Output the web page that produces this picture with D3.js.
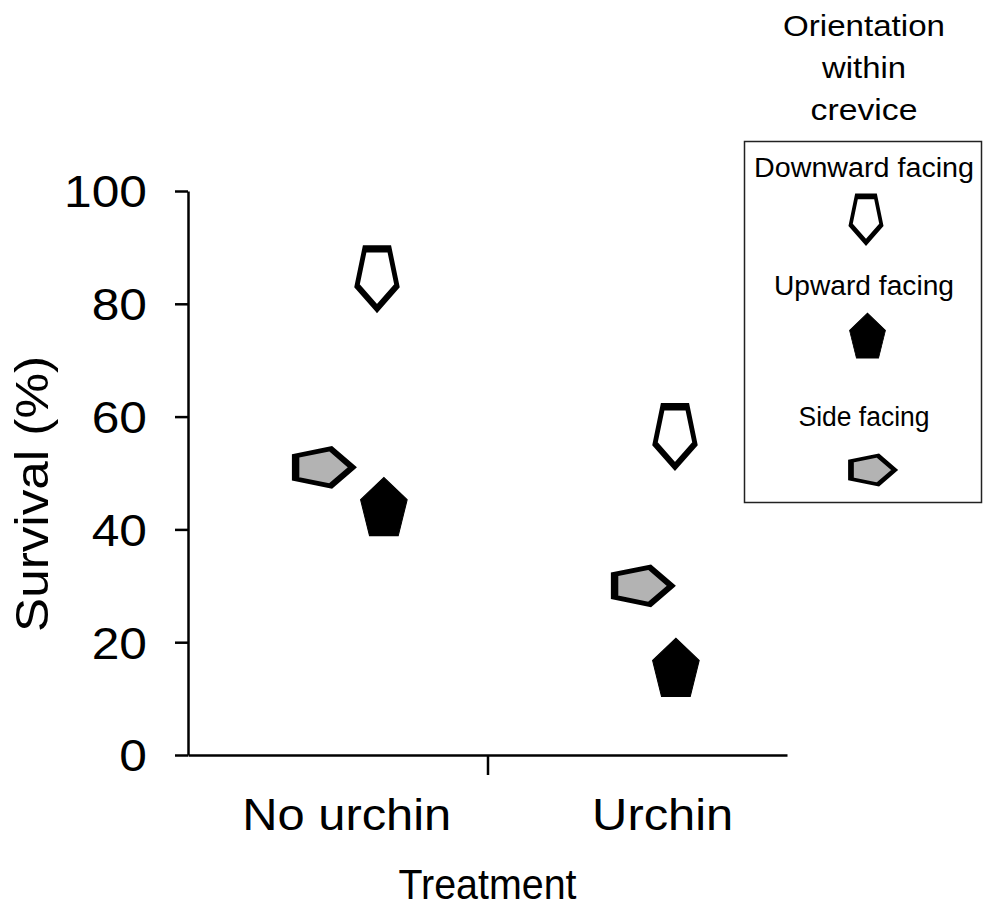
<!DOCTYPE html>
<html>
<head>
<meta charset="utf-8">
<script src="https://cdn.jsdelivr.net/npm/d3@7"></script>
<style>
  html, body { margin: 0; padding: 0; background: #fff; }
  svg { display: block; font-family: "Liberation Sans", Arial, Helvetica, sans-serif; }
</style>
</head>
<body>
<svg id="chart" width="984" height="924"></svg>
<script>
// Survival by treatment, split by orientation of the shelter within the crevice
const treatments = ["No urchin", "Urchin"];
const treatmentLabelPos = [0.53, 1.585];   // label positions along the treatment axis
const orientations = ["Downward facing", "Upward facing", "Side facing"];
const downwardSurvival = [85, 57];
const upwardSurvival = [43.5, 15];
const sideSurvival = [51, 30];
const downwardX = [0.631, 1.626];
const upwardX = [0.654, 1.629];
const sideX = [0.444, 1.509];
const yTicks = [0, 20, 40, 60, 80, 100];
const yTitle = "Survival (%)";
const xTitle = "Treatment";
const legendTitle = ["Orientation", "within", "crevice"];

const FONT = '"Liberation Sans", Arial, Helvetica, sans-serif';
const svg = d3.select("#chart");

const x = d3.scaleLinear().domain([0, 2]).range([188, 787]);
const y = d3.scaleLinear().domain([0, 100]).range([755, 191]);

// stretch a text element horizontally to a given advance width
function fit(sel, w) {
  sel.attr("textLength", w).attr("lengthAdjust", "spacingAndGlyphs");
  return sel;
}

// regular pentagon (circumradius r) rotated so a vertex points in direction rot (deg, 0 = up)
function pentagon(r, rot) {
  const pts = d3.range(5).map(k => {
    const a = (rot + k * 72) * Math.PI / 180;
    return [r * Math.sin(a), -r * Math.cos(a)];
  });
  return "M" + pts.map(p => p[0].toFixed(3) + "," + p[1].toFixed(3)).join("L") + "Z";
}

const markerStyles = {
  "Downward facing": { r: 20, rot: 180, sx: 1.05, sy: 1.65, fill: "#ffffff", sw: 4.5 },
  "Upward facing":   { r: 24, rot: 0,   sx: 1.02, sy: 1.34, fill: "#000000", sw: 1 },
  "Side facing":     { r: 19, rot: 90,  sx: 1.65, sy: 1.03, fill: "#b3b3b3", sw: 4.5 }
};

function drawMarker(g, name, cx, cy, k) {
  const s = markerStyles[name];
  g.append("path")
    .attr("d", pentagon(s.r, s.rot))
    .attr("transform", `translate(${cx},${cy}) scale(${s.sx * k},${s.sy * k})`)
    .attr("fill", s.fill)
    .attr("stroke", "#000")
    .attr("stroke-width", s.sw)
    .attr("stroke-linejoin", "miter")
    .attr("stroke-miterlimit", 10);
}

// axes
const yAxis = svg.append("g")
  .attr("transform", `translate(${x(0)},0)`)
  .call(d3.axisLeft(y).tickValues(yTicks).tickSize(13).tickSizeOuter(0).tickPadding(28));
yAxis.select(".domain").attr("stroke", "#000").attr("stroke-width", 2.5);
yAxis.selectAll(".tick line").attr("stroke", "#000").attr("stroke-width", 2.5);
yAxis.selectAll(".tick text")
  .attr("font-family", FONT).attr("font-size", 44).attr("fill", "#000").attr("dy", "0.36em")
  .each(function () { fit(d3.select(this), this.getComputedTextLength() * 1.13); });

const xAxis = svg.append("g")
  .attr("transform", `translate(0,${y(0)})`)
  .call(d3.axisBottom(x).tickValues([1]).tickFormat("").tickSize(20).tickSizeOuter(0));
xAxis.select(".domain").attr("stroke", "#000").attr("stroke-width", 2.5);
xAxis.selectAll(".tick line").attr("stroke", "#000").attr("stroke-width", 2.5);

// category labels
svg.append("g").selectAll("text")
  .data(treatments)
  .join("text")
  .attr("x", (d, i) => x(treatmentLabelPos[i]))
  .attr("y", 830)
  .attr("text-anchor", "middle")
  .attr("font-family", FONT).attr("font-size", 44)
  .text(d => d)
  .each(function () { fit(d3.select(this), this.getComputedTextLength() * 1.11); });

// axis titles
fit(svg.append("text")
  .attr("x", x(1)).attr("y", 899)
  .attr("text-anchor", "middle")
  .attr("font-family", FONT).attr("font-size", 42)
  .text(xTitle), 178);

fit(svg.append("text")
  .attr("transform", "translate(48,494) rotate(-90)")
  .attr("text-anchor", "middle")
  .attr("font-family", FONT).attr("font-size", 47)
  .text(yTitle), 276);

// data points
const series = [
  { name: "Downward facing", values: downwardSurvival, xs: downwardX },
  { name: "Upward facing", values: upwardSurvival, xs: upwardX },
  { name: "Side facing", values: sideSurvival, xs: sideX }
];
const pts = svg.append("g");
series.forEach(s => {
  s.values.forEach((v, i) => drawMarker(pts, s.name, x(s.xs[i]), y(v), 1));
});

// legend
const leg = svg.append("g");
const titleWidths = [162, 84, 107];
legendTitle.forEach((t, i) => {
  fit(leg.append("text")
    .attr("x", 864).attr("y", 36 + i * 42)
    .attr("text-anchor", "middle")
    .attr("font-family", FONT).attr("font-size", 30)
    .text(t), titleWidths[i]);
});
leg.append("rect")
  .attr("x", 744.5).attr("y", 141.5).attr("width", 237).attr("height", 361)
  .attr("fill", "none").attr("stroke", "#222").attr("stroke-width", 1.5);

const legItems = [
  { name: orientations[0], ty: 177, tw: 220, mx: 866, my: 217 },
  { name: orientations[1], ty: 295, tw: 180, mx: 867.5, my: 338 },
  { name: orientations[2], ty: 426, tw: 131, mx: 870.5, my: 470 }
];
legItems.forEach(it => {
  fit(leg.append("text")
    .attr("x", 864).attr("y", it.ty)
    .attr("text-anchor", "middle")
    .attr("font-family", FONT).attr("font-size", 27)
    .text(it.name), it.tw);
  drawMarker(leg, it.name, it.mx, it.my, 0.77);
});
</script>
</body>
</html>
